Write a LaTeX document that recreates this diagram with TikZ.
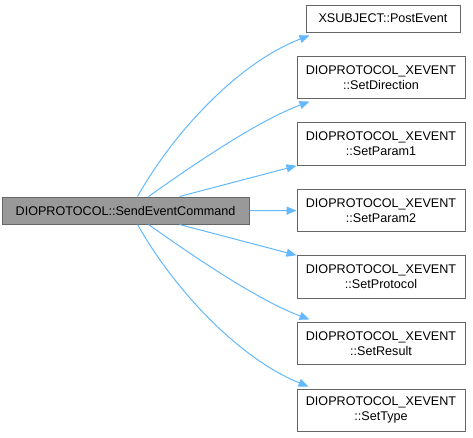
\documentclass[tikz,border=0pt]{standalone}
\usepackage{fontspec}
\setmainfont{Liberation Sans}
\usetikzlibrary{arrows.meta,calc}
\definecolor{edgec}{HTML}{63B8FF}
\definecolor{boxc}{HTML}{666666}
\definecolor{srcfill}{HTML}{999999}
\begin{document}
\begin{tikzpicture}[x=1pt,y=-1pt,
  box/.style={draw=boxc, line width=1pt, fill=white, inner sep=0pt,
    font=\fontsize{12.6}{15}\selectfont, align=center},
  longbox/.style={box, minimum width=168pt, minimum height=42.5pt},
  edge/.style={draw=edgec, line width=1pt, -{Triangle[length=10pt,width=8pt]}}]
\useasboundingbox (0,0) rectangle (473,437);
\node[box, fill=srcfill, minimum width=247pt, minimum height=27pt] (src) at (125.5,210.5) {DIOPROTOCOL::SendEventCommand};
\node[box, minimum width=154pt, minimum height=27pt] (pe) at (383,18.5) {XSUBJECT::PostEvent};
\node[longbox] (sd) at (381,77.3) {DIOPROTOCOL\_XEVENT\\::SetDirection};
\node[longbox] (p1) at (381,144) {DIOPROTOCOL\_XEVENT\\::SetParam1};
\node[longbox] (p2) at (381,210.6) {DIOPROTOCOL\_XEVENT\\::SetParam2};
\node[longbox] (sp) at (381,277) {DIOPROTOCOL\_XEVENT\\::SetProtocol};
\node[longbox] (sr) at (381,343.7) {DIOPROTOCOL\_XEVENT\\::SetResult};
\node[longbox] (st) at (381,410.3) {DIOPROTOCOL\_XEVENT\\::SetType};
\draw[edge] ($(src.north west)+(136,0)$) .. controls (175,130) and (240,62) .. ($(pe.south west)+(4,3)$);
\draw[edge] ($(src.north west)+(147,0)$) .. controls (200,160) and (260,120) .. ($(sd.south west)+(13,2.5)$);
\draw[edge] ($(src.north west)+(178,0)$) -- (p1.south west);
\draw[edge] (src.east) -- (p2.west);
\draw[edge] ($(src.south west)+(178,0)$) -- (sp.north west);
\draw[edge] ($(src.south west)+(147,0)$) .. controls (200,261) and (260,301) .. ($(sr.north west)+(13,-2.5)$);
\draw[edge] ($(src.south west)+(136,0)$) .. controls (175,291) and (240,359) .. ($(st.north west)+(12,-2)$);
\end{tikzpicture}
\end{document}
